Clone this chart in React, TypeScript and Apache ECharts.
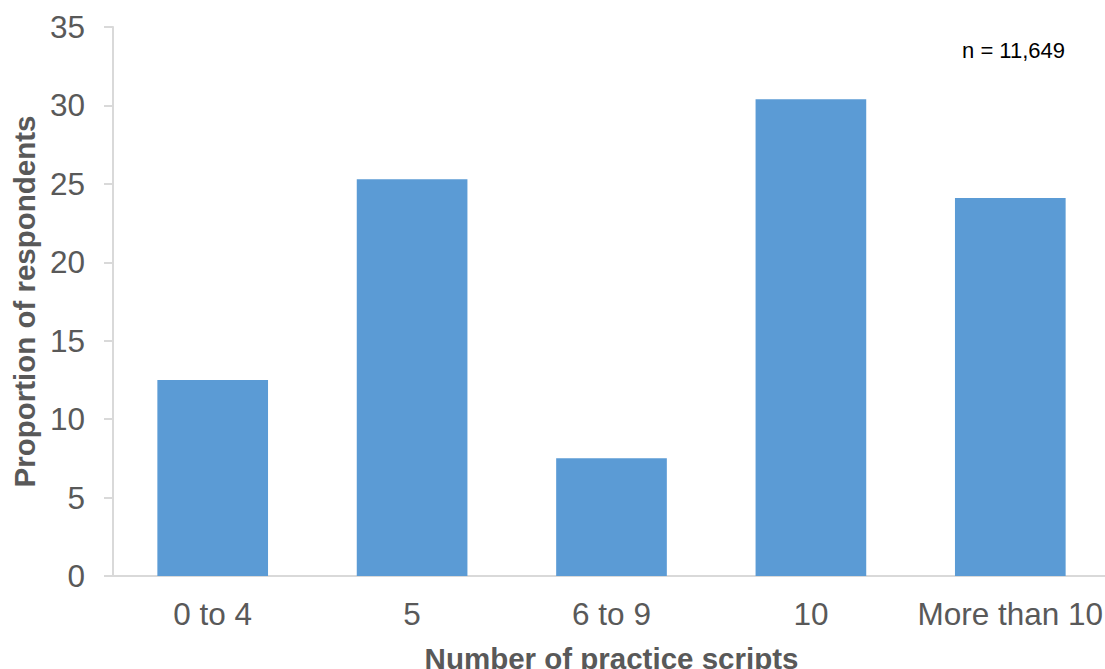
import React, { useEffect, useRef } from "react";
import * as echarts from "echarts";

const categories = ["0 to 4", "5", "6 to 9", "10", "More than 10"];
const values = [12.5, 25.3, 7.5, 30.4, 24.1];
const sampleNote = "n = 11,649";
const xTitle = "Number of practice scripts";
const yTitle = "Proportion of respondents";

export default function App() {
  const ref = useRef<HTMLDivElement>(null);
  useEffect(() => {
    document.body.style.margin = "0";
    const chart = echarts.init(ref.current!, null, { renderer: "svg" });
    const font = "'Liberation Sans', Arial, sans-serif";
    chart.setOption({
      animation: false,
      textStyle: { fontFamily: font },
      grid: {
        left: 113,
        top: 27,
        width: 997,
        height: 549,
        containLabel: false,
        outerBoundsMode: "none",
      },
      graphic: [
        {
          type: "text",
          right: 40,
          top: 39,
          style: { text: sampleNote, fontSize: 22, fill: "#000", fontFamily: font },
        },
      ],
      xAxis: {
        type: "category",
        data: categories,
        name: xTitle,
        nameLocation: "middle",
        nameGap: 67,
        nameTextStyle: { fontSize: 29.5, fontWeight: "bold", color: "#595959", fontFamily: font },
        axisLine: { show: true, lineStyle: { color: "#d9d9d9", width: 2 } },
        axisTick: { show: false },
        axisLabel: { fontSize: 31.5, color: "#595959", margin: 22, fontFamily: font, interval: 0 },
      },
      yAxis: {
        type: "value",
        min: 0,
        max: 35,
        interval: 5,
        name: yTitle,
        nameLocation: "middle",
        nameGap: 70,
        nameTextStyle: { fontSize: 29.5, fontWeight: "bold", color: "#595959", fontFamily: font },
        splitLine: { show: false },
        axisLine: { show: true, lineStyle: { color: "#d9d9d9", width: 2 } },
        axisTick: { show: true, length: 9, lineStyle: { color: "#d9d9d9", width: 2 } },
        axisLabel: { fontSize: 31.5, color: "#595959", margin: 28, fontFamily: font },
      },
      series: [
        {
          type: "bar",
          data: values,
          barWidth: "55.5%",
          itemStyle: { color: "#5b9bd5" },
        },
      ],
    });
    return () => chart.dispose();
  }, []);
  return <div ref={ref} style={{ width: 1105, height: 669 }} />;
}
